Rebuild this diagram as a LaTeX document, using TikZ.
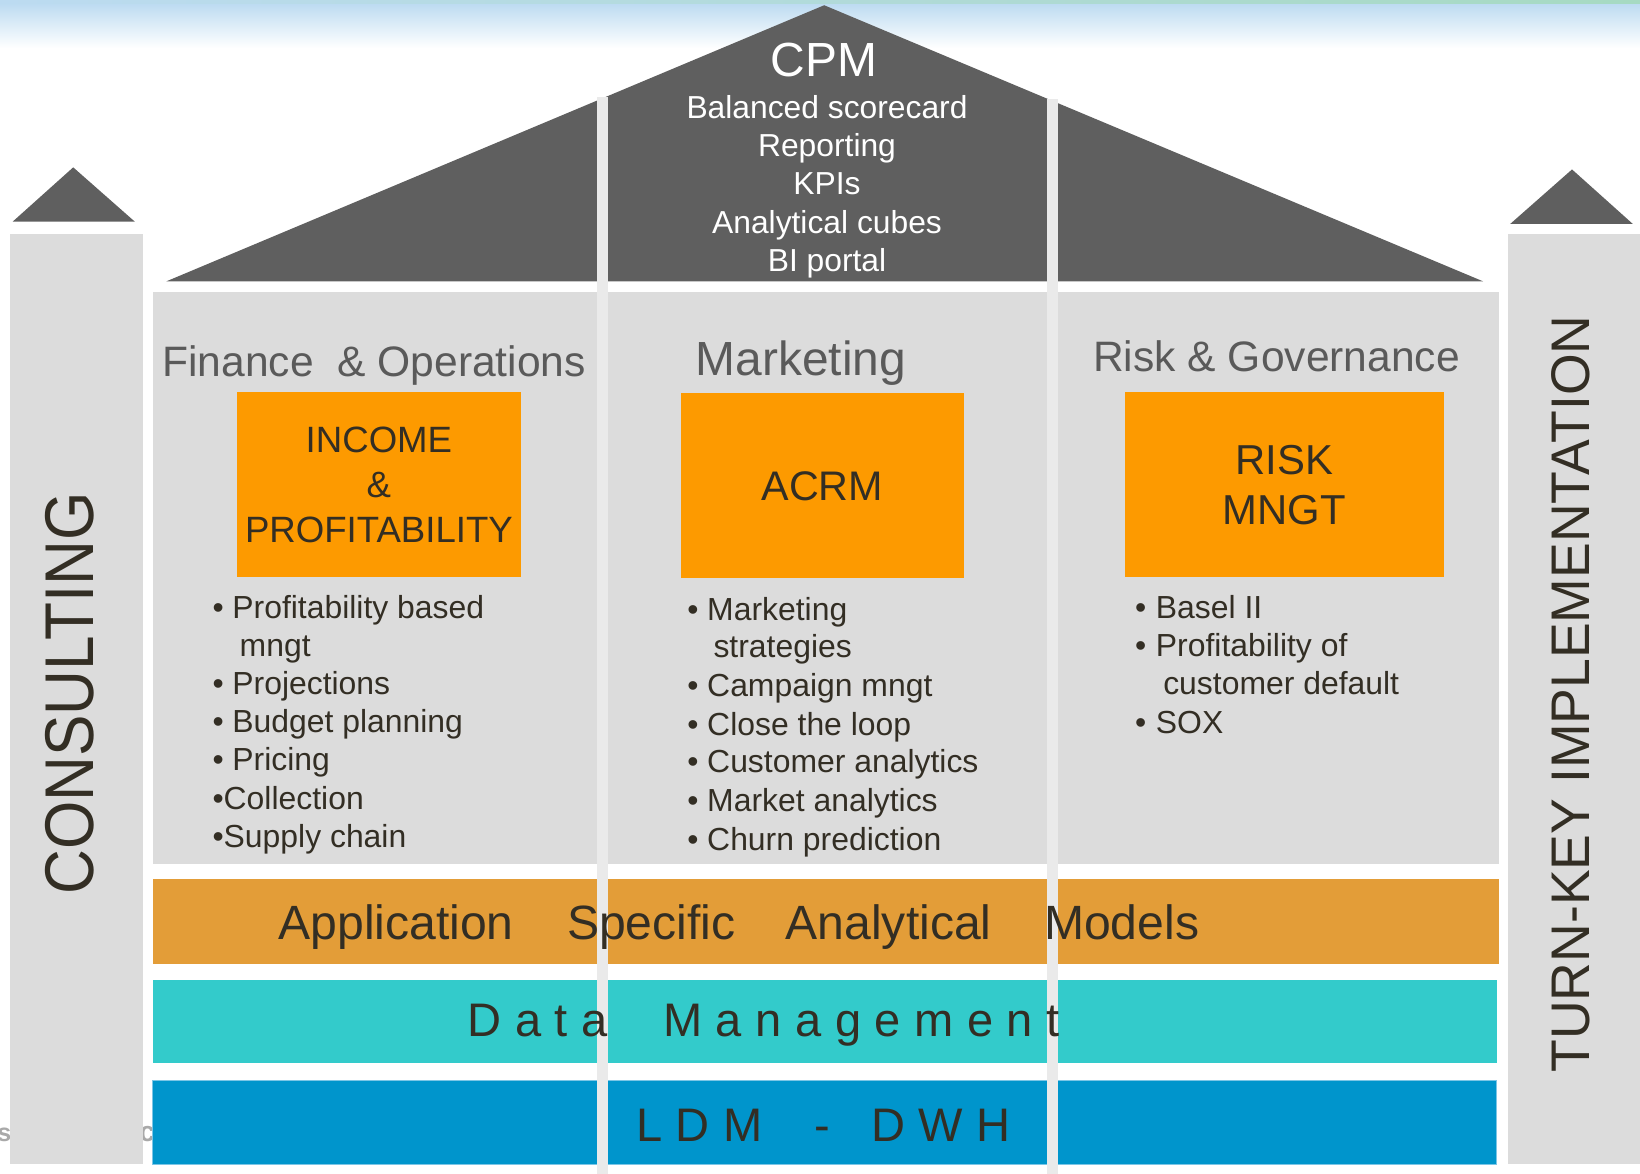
\documentclass[tikz,border=0pt]{standalone}
\usepackage{fontspec}
\setmainfont{Liberation Sans}
\usepackage{graphicx}
\definecolor{roofgray}{HTML}{5F5F5F}
\definecolor{panelgray}{HTML}{DCDCDC}
\definecolor{vline}{HTML}{EAEAEA}
\definecolor{boxorange}{HTML}{FD9A00}
\definecolor{bandorange}{HTML}{E39D38}
\definecolor{bandteal}{HTML}{33CBCB}
\definecolor{bandblue}{HTML}{0095CC}
\definecolor{bandblueedge}{HTML}{7CC6E6}
\definecolor{txtdark}{HTML}{332E24}
\definecolor{hdrgray}{HTML}{5A5A5A}
\definecolor{skyblue}{HTML}{BCDBF1}
\definecolor{skygreen}{HTML}{A6DAC2}
\definecolor{faint}{HTML}{A9A9A9}
\newcommand\fsz[2]{\fontsize{#1}{#2}\selectfont}
\newcommand\bul[1]{\makebox[#1][l]{•}}
\begin{document}
\begin{tikzpicture}[x=1pt,y=-1pt,
  roofst/.style={fill=roofgray,draw=none},
  pillarst/.style={fill=panelgray,draw=none},
  vlinest/.style={fill=vline,draw=none},
  obox/.style={fill=boxorange,draw=none,inner sep=0,align=center,text=txtdark,minimum width=271pt,minimum height=177pt},
  hdr/.style={anchor=base west,inner sep=0,text=hdrgray,font=\fsz{40.7}{48}},
  bl/.style={anchor=base west,inner sep=0,text=txtdark,font=\fsz{30.5}{36}},
  cpmline/.style={anchor=base,inner sep=0,text=white,font=\fsz{30.4}{36}},
  bandtxt/.style={anchor=base west,inner sep=0,text=txtdark,font=\fsz{46}{54}},
  spaced/.style={anchor=base west,inner sep=0,text=txtdark,font=\fsz{45}{54}\addfontfeature{LetterSpace=28.7}},
  sidetxt/.style={anchor=base,inner sep=0,rotate=90,text=txtdark}
]
\useasboundingbox (0,0) rectangle (1568,1122);
% sky gradient
\shade[top color=skyblue,bottom color=white] (0,3) rectangle (1568,46);
\shade[left color=skyblue,right color=skygreen] (0,0) rectangle (1568,3.5);
% roof
\path[roofst] (159,269) -- (788,5) -- (1418,269) -- cycle;
% side triangles
\path[roofst] (12,212) -- (70,160) -- (129,212) -- cycle;
\path[roofst] (1444,214) -- (1503,162) -- (1561,214) -- cycle;
% faint background text fragments
\node[anchor=base east,inner sep=0,text=faint,font=\fsz{24}{30}\bfseries] (fadeA) at (11,1091) {us};
\node[anchor=base west,inner sep=0,text=faint,font=\fsz{27}{32}\bfseries] (fadeB) at (133,1091) {c};
% pillars
\path[pillarst] (10,224) rectangle (137,1113);
\path[pillarst] (1442,224) rectangle (1568,1113);
% main panel
\path[pillarst] (146,279) rectangle (1433,826);
% bands
\fill[bandorange] (146,840) rectangle (1433,922);
\fill[bandteal] (146,937) rectangle (1431,1016);
\filldraw[fill=bandblue,draw=bandblueedge,line width=0.8pt] (146,1033) rectangle (1431,1113);
% vertical light lines
\path[vlinest] (571,93) rectangle (581,1122);
\path[vlinest] (1001,95) rectangle (1012,1122);
% CPM texts
\node[anchor=base,inner sep=0,text=white,font=\fsz{45.8}{54}] (cpm) at (788,72.7) {CPM};
\node[cpmline] (cpm1) at (790.7,113) {Balanced scorecard};
\node[cpmline] (cpm2) at (790.7,149.8) {Reporting};
\node[cpmline] (cpm3) at (790.7,186.4) {KPIs};
\node[cpmline] (cpm4) at (790.7,223) {Analytical cubes};
\node[cpmline] (cpm5) at (790.7,259.7) {BI portal};
% headers
\node[hdr] (hfin) at (155,359.5) {Finance\ \ \&\ Operations};
\node[hdr,font=\fsz{45.8}{54}] (hmkt) at (665,359) {Marketing};
\node[hdr] (hrisk) at (1045,355.3) {Risk \& Governance};
% orange boxes
\node[obox,font=\fsz{35}{43}] (income) at (362.3,463.5) {INCOME\\\&\\PROFITABILITY};
\node[obox,font=\fsz{39.5}{48}] (acrm) at (786.3,464.5) {ACRM};
\node[obox,font=\fsz{40}{48},minimum width=305pt] (risk) at (1228,463.5) {RISK\\MNGT};
% finance bullets
\node[bl] (f1) at (203,591) {\bul{19pt}Profitability based};
\node[bl] (f1b) at (229,627.5) {mngt};
\node[bl] (f2) at (203,664) {\bul{19pt}Projections};
\node[bl] (f3) at (203,700.5) {\bul{19pt}Budget planning};
\node[bl] (f4) at (203,737) {\bul{19pt}Pricing};
\node[bl] (f5) at (203,773.5) {•Collection};
\node[bl] (f6) at (203,810) {•Supply chain};
% marketing bullets
\node[bl] (m1) at (657,593) {\bul{19pt}Marketing};
\node[bl] (m1b) at (682,629) {strategies};
\node[bl] (m2) at (657,666) {\bul{19pt}Campaign mngt};
\node[bl] (m3) at (657,703) {\bul{19pt}Close the loop};
\node[bl] (m4) at (657,739) {\bul{19pt}Customer analytics};
\node[bl] (m5) at (657,776) {\bul{19pt}Market analytics};
\node[bl] (m6) at (657,813) {\bul{19pt}Churn prediction};
% risk bullets
\node[bl] (r1) at (1085,591) {\bul{20pt}Basel II};
\node[bl] (r2) at (1085,628) {\bul{20pt}Profitability of};
\node[bl] (r2b) at (1112,664) {customer default};
\node[bl] (r3) at (1085,701) {\bul{20pt}SOX};
% band texts
\node[bandtxt] (wapp) at (266,898) {Application};
\node[bandtxt] (wspec) at (542,898) {Specific};
\node[bandtxt] (wanal) at (751,898) {Analytical};
\node[bandtxt] (wmod) at (998,898) {Models};
\node[spaced] (wdata) at (447,991) {Data};
\node[spaced] (wmgmt) at (634,991) {Management};
\node[spaced] (wldm) at (608,1091) {LDM};
\node[spaced] (wdash) at (779,1091) {-};
\node[spaced] (wdwh) at (833,1091) {DWH};
% pillar texts
\node[sidetxt,font=\fsz{66}{80}] (consult) at (89.5,663) {\scalebox{0.9}[1]{CONSULTING}};
\node[sidetxt,font=\fsz{52}{62}] (turnkey) at (1520,663.5) {\scalebox{0.985}[1]{TURN-KEY IMPLEMENTATION}};
\end{tikzpicture}
\end{document}
